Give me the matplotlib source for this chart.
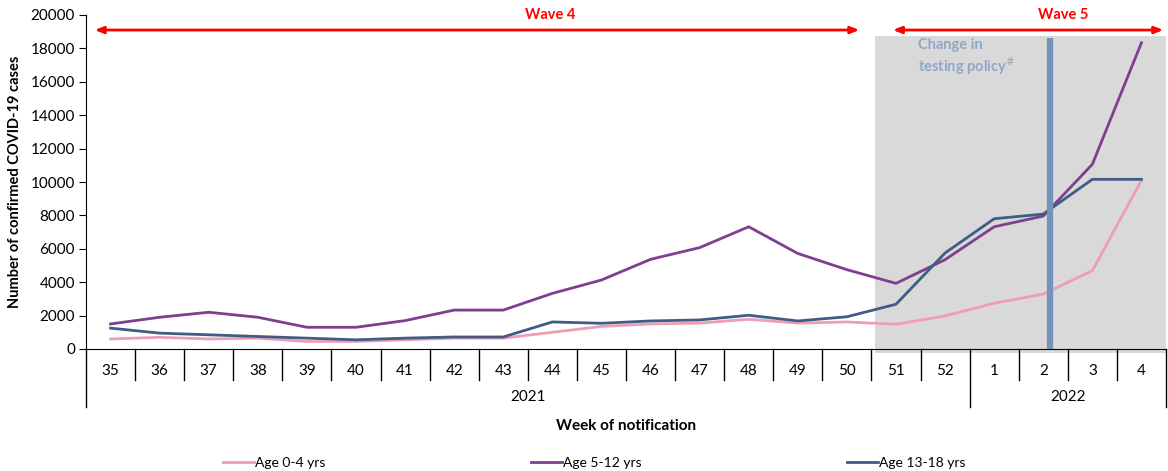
import matplotlib
matplotlib.use("Agg")
import matplotlib.pyplot as plt
import matplotlib.transforms as mtransforms
from matplotlib.patches import Rectangle

plt.rcParams['font.family'] = ['Lato', 'DejaVu Sans']

weeks = ["35", "36", "37", "38", "39", "40", "41", "42", "43", "44", "45",
         "46", "47", "48", "49", "50", "51", "52", "1", "2", "3", "4"]
years = ["2021"] * 18 + ["2022"] * 4

age_0_4 = [600, 700, 600, 650, 450, 450, 550, 650, 650, 1000, 1350,
           1500, 1550, 1780, 1550, 1620, 1480, 1980, 2740, 3290, 4690, 10100]
age_5_12 = [1500, 1900, 2200, 1900, 1300, 1300, 1700, 2330, 2330, 3330, 4130,
            5370, 6070, 7320, 5720, 4750, 3930, 5350, 7320, 7960, 11060, 18340]
age_13_18 = [1250, 950, 850, 750, 650, 550, 650, 720, 720, 1620, 1540,
             1680, 1740, 2020, 1680, 1930, 2680, 5750, 7800, 8080, 10160, 10160]

series = [("Age 0-4 yrs", age_0_4, "#ee9db5"),
          ("Age 5-12 yrs", age_5_12, "#7d3f8e"),
          ("Age 13-18 yrs", age_13_18, "#3f5d84")]

policy_week = 19.13   # just after week 2 of 2022
wave5_start = 15.57

fig = plt.figure(figsize=(11.68, 4.71), dpi=100)
ax = fig.add_axes([86 / 1168, 122 / 471, 1080 / 1168, 334 / 471])

x = list(range(len(weeks)))

# shaded wave 5 area
ax.add_patch(Rectangle((wave5_start, -250), len(weeks) - 0.5 - wave5_start, 19000,
                       facecolor="#d9d9d9", edgecolor="none", zorder=0, clip_on=False))

handles = []
for name, vals, col in series:
    ln, = ax.plot(x, vals, color=col, lw=2, label=name, zorder=3)
    handles.append(ln)

ax.plot([policy_week, policy_week], [0, 18650], color="#7393bb", lw=4.5, zorder=4,
        solid_capstyle="butt")
ax.text(16.45, 18650, "Change in\ntesting policy$^{\\#}$", color="#8ea8c9", fontsize=10.5,
        fontweight="bold", va="top", ha="left", linespacing=1.25, zorder=5)

# wave arrows
ax.annotate("", xy=(-0.38, 19100), xytext=(15.31, 19100),
            arrowprops=dict(arrowstyle="<|-|>,head_length=0.5,head_width=0.2", color="red", lw=2),
            annotation_clip=False)
ax.annotate("", xy=(15.88, 19100), xytext=(21.5, 19100),
            arrowprops=dict(arrowstyle="<|-|>,head_length=0.5,head_width=0.2", color="red", lw=2),
            annotation_clip=False)
ax.text(8.95, 20000, "Wave 4", color="red", fontsize=10.5, fontweight="bold",
        ha="center", va="center")
ax.text(19.4, 20000, "Wave 5", color="red", fontsize=10.5, fontweight="bold",
        ha="center", va="center")

ax.set_xlim(-0.5, len(weeks) - 0.5)
ax.set_ylim(0, 20000)
ax.set_yticks(range(0, 20001, 2000))
ax.tick_params(axis="y", direction="out", length=5, labelsize=11, pad=3)
ax.set_xticks(x)
ax.set_xticklabels(weeks)
ax.tick_params(axis="x", length=0, labelsize=11, pad=11)
for s in ["top", "right"]:
    ax.spines[s].set_visible(False)

# category separators and year groups
trans = mtransforms.blended_transform_factory(ax.transData, ax.transAxes)
for i in range(len(weeks) + 1):
    b = i - 0.5
    if i == 0 or i == len(weeks) or years[i] != years[i - 1]:
        ax.plot([b, b], [0, -0.174], color="black", lw=1, transform=trans, clip_on=False)
    else:
        ax.plot([b, b], [0, -0.093], color="black", lw=1, transform=trans, clip_on=False)

for yr in ["2021", "2022"]:
    idx = [i for i, y in enumerate(years) if y == yr]
    ax.text(sum(idx) / len(idx), -0.145, yr, transform=trans, ha="center", va="center",
            fontsize=11)

ax.text(0.5, -0.232, "Week of notification", transform=ax.transAxes, ha="center",
        va="center", fontsize=11, fontweight="bold")
ax.set_ylabel("Number of confirmed COVID-19 cases", fontsize=10.5, fontweight="bold",
              labelpad=6)

fig.legend(handles=handles, loc="center", bbox_to_anchor=(0.509, 0.017), ncol=3,
           frameon=False, fontsize=10, handlelength=2.2, handletextpad=0.1,
           columnspacing=14.8)

fig.savefig("out.png", dpi=100)
